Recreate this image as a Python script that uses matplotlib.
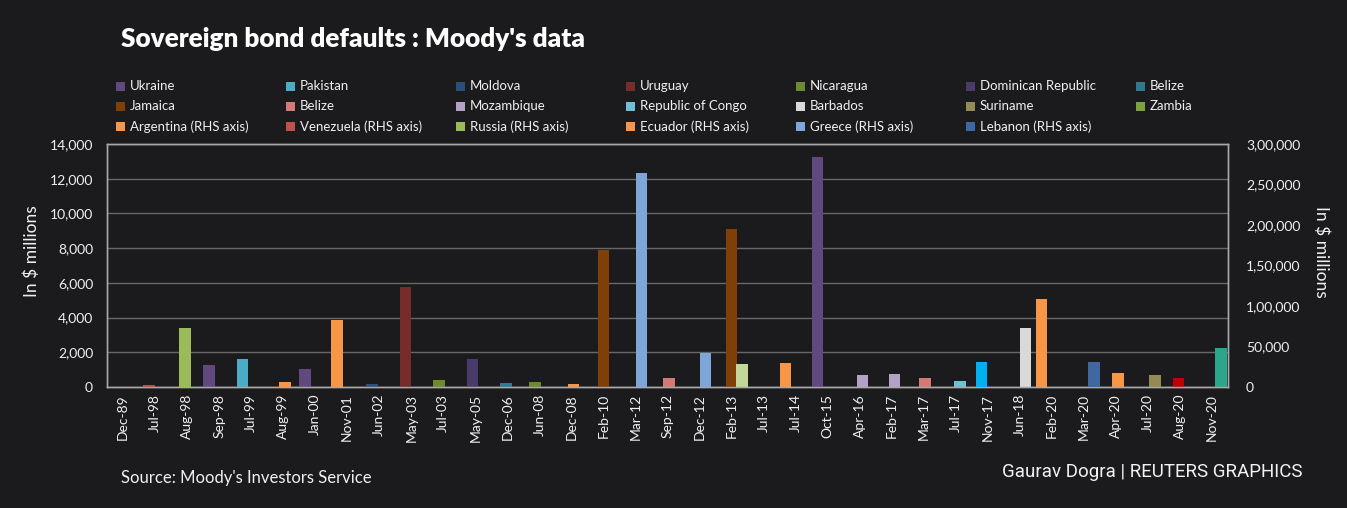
import matplotlib
matplotlib.use('Agg')
import matplotlib.pyplot as plt
from matplotlib.ticker import FuncFormatter
from matplotlib.patches import Rectangle

# ---------------- data ----------------
categories = ["Dec-89", "Jul-98", "Aug-98", "Sep-98", "Jul-99", "Aug-99", "Jan-00", "Nov-01",
              "Jun-02", "May-03", "Jul-03", "May-05", "Dec-06", "Jun-08", "Dec-08", "Feb-10",
              "Mar-12", "Sep-12", "Dec-12", "Feb-13", "Jul-13", "Jul-14", "Oct-15", "Apr-16",
              "Feb-17", "Mar-17", "Jul-17", "Nov-17", "Jun-18", "Feb-20", "Mar-20", "Apr-20",
              "Jul-20", "Aug-20", "Nov-20"]

# series on the left axis (in plotting order)
primary_series = ["Ukraine", "Pakistan", "Moldova", "Uruguay", "Nicaragua", "Dominican Republic",
                  "Belize", "Jamaica", "Belize 2", "Mozambique", "Republic of Congo", "Barbados",
                  "Suriname", "Zambia", "Cyprus"]
# series on the right axis
secondary_series = ["Argentina", "Venezuela", "Russia", "Ecuador", "Greece", "Lebanon"]

series_labels = {"Belize 2": "Belize", "Argentina": "Argentina (RHS axis)",
                 "Venezuela": "Venezuela (RHS axis)", "Russia": "Russia (RHS axis)",
                 "Ecuador": "Ecuador (RHS axis)", "Greece": "Greece (RHS axis)",
                 "Lebanon": "Lebanon (RHS axis)"}

bar_series = ["Venezuela", "Russia", "Ukraine", "Pakistan", "Ecuador", "Ukraine", "Argentina",
              "Moldova", "Uruguay", "Nicaragua", "Dominican Republic", "Belize", "Nicaragua",
              "Ecuador", "Jamaica", "Greece", "Belize 2", "Greece", "Jamaica", "Cyprus",
              "Argentina", "Ukraine", "Mozambique", "Mozambique", "Belize 2", "Republic of Congo",
              "Venezuela", "Barbados", "Argentina", "Lebanon", "Ecuador", "Suriname", "Belize",
              "Zambia"]
bar_category = ["Jul-98", "Aug-98", "Sep-98", "Jul-99", "Aug-99", "Jan-00", "Nov-01",
                "Jun-02", "May-03", "Jul-03", "May-05", "Dec-06", "Jun-08",
                "Dec-08", "Feb-10", "Mar-12", "Sep-12", "Dec-12", "Feb-13", "Feb-13",
                "Jul-14", "Oct-15", "Apr-16", "Feb-17", "Mar-17", "Jul-17",
                "Nov-17", "Jun-18", "Feb-20", "Mar-20", "Apr-20", "Jul-20", "Aug-20",
                "Nov-20"]
bar_value = [2000, 72700, 1270, 1630, 6550, 1060, 82300,
             170, 5750, 380, 1630, 240, 300,
             3500, 7900, 264000, 530, 42400, 9100, 1320,
             29600, 13250, 700, 750, 520, 350,
             31200, 3400, 108600, 30900, 17300, 690, 520,
             2250]

left_ticks = [0, 2000, 4000, 6000, 8000, 10000, 12000, 14000]
right_ticks = [0, 50000, 100000, 150000, 200000, 250000, 300000]

# ---------------- styles ----------------
series_colors = {
    "Ukraine": "#61487f", "Pakistan": "#4bacc6", "Moldova": "#2b4e7b", "Uruguay": "#772b2b",
    "Nicaragua": "#6b8a33", "Dominican Republic": "#4b3b6b", "Belize": "#2e7a90",
    "Jamaica": "#7f3f06", "Belize 2": "#d47a75", "Mozambique": "#b3a2c7",
    "Republic of Congo": "#6ec0d6", "Barbados": "#d9d9d9", "Suriname": "#948a54",
    "Zambia": "#7ba23c", "Cyprus": "#c4d79b",
    "Argentina": "#f79646", "Venezuela": "#c0504d", "Russia": "#9bbb59",
    "Ecuador": "#f79646", "Greece": "#7ea6d8", "Lebanon": "#3f68a0",
}
point_colors = {("Venezuela", "Nov-17"): "#00b0f0", ("Belize", "Aug-20"): "#c00000",
                ("Zambia", "Nov-20"): "#2ca58a"}

BG = "#1b1b1d"
TXT = "#f0f0f0"
GRID = "#686868"
SPINE = "#a8a8a8"
FONT = "Lato"

plt.rcParams['font.family'] = [FONT, 'DejaVu Sans']

W, H = 1347, 508
fig = plt.figure(figsize=(W / 100, H / 100), dpi=100, facecolor=BG)
ax = fig.add_axes([107 / W, 1 - 387 / H, (1228 - 107) / W, (387 - 144) / H])
ax.set_facecolor(BG)
ax2 = ax.twinx()
ax2.patch.set_visible(False)

bar_w = 0.36
span = 0.32


def offset(name):
    group = primary_series if name in primary_series else secondary_series
    k = group.index(name)
    return -span + 2 * span * k / (len(group) - 1)


for s, c, v in zip(bar_series, bar_category, bar_value):
    x = categories.index(c) + offset(s)
    col = point_colors.get((s, c), series_colors[s])
    target = ax if s in primary_series else ax2
    target.bar(x, v, width=bar_w, color=col, linewidth=0, zorder=3)

ax.set_xlim(-0.5, len(categories) - 0.5)
ax.set_ylim(0, 14000)
ax2.set_ylim(0, 300000)
ax.set_yticks(left_ticks)
ax2.set_yticks(right_ticks)
ax.yaxis.set_major_formatter(FuncFormatter(lambda v, p: f"{int(v):,}"))


def indian(v, p):
    s = str(int(v))
    if len(s) <= 3:
        return s
    last3 = s[-3:]
    rest = s[:-3]
    parts = []
    while len(rest) > 2:
        parts.insert(0, rest[-2:])
        rest = rest[:-2]
    if rest:
        parts.insert(0, rest)
    return ",".join(parts + [last3])


ax2.yaxis.set_major_formatter(FuncFormatter(indian))

ax.set_xticks(range(len(categories)))
ax.set_xticklabels(categories, rotation=90)
ax.grid(axis='y', color=GRID, linewidth=1.0, zorder=0)
ax.set_axisbelow(True)

for a in (ax, ax2):
    for sp in a.spines.values():
        sp.set_color(SPINE)
        sp.set_linewidth(1.0)
    a.tick_params(length=0, colors=TXT, labelsize=10)
ax.tick_params(axis='y', pad=10)
ax.tick_params(axis='x', pad=5)
ax2.tick_params(axis='y', pad=13)

ax.set_ylabel("In $ millions", color=TXT, fontsize=12.5, va='center')
ax2.set_ylabel("In $ millions", color=TXT, fontsize=12.5, rotation=270, va='center')
ax.yaxis.set_label_coords((32 - 107) / 1121, (387 - 251) / 243)
ax2.yaxis.set_label_coords((1321 - 107) / 1121, (387 - 252) / 243)

# title
fig.text(121 / W, 1 - 39 / H, "Sovereign bond defaults : Moody's data", color="white",
         fontsize=18.8, fontweight='heavy', va='center', ha='left')

# legend (row-major grid, 7 columns)
legend_rows = [primary_series[:7], primary_series[7:14], secondary_series]
for r, row in enumerate(legend_rows):
    for cidx, s in enumerate(row):
        x0 = 121 + cidx * 170
        y0 = 86 + r * 20.3
        fig.patches.append(Rectangle(((x0 - 5) / W, 1 - (y0 + 4.5) / H), 9 / W, 9 / H,
                                     transform=fig.transFigure, color=series_colors[s],
                                     linewidth=0))
        fig.text((x0 + 9) / W, 1 - y0 / H, series_labels.get(s, s), color=TXT,
                 fontsize=9.5, va='center', ha='left')

fig.text(121 / W, 1 - 478 / H, "Source: Moody's Investors Service", color=TXT,
         fontsize=12, va='center', ha='left')
fig.text(1302 / W, 1 - 472 / H, "Gaurav Dogra | REUTERS GRAPHICS", color="#f2f2f2",
         fontsize=13.5, va='center', ha='right', family=['Roboto', 'DejaVu Sans'])

fig.savefig("out.png", dpi=100, facecolor=BG)
